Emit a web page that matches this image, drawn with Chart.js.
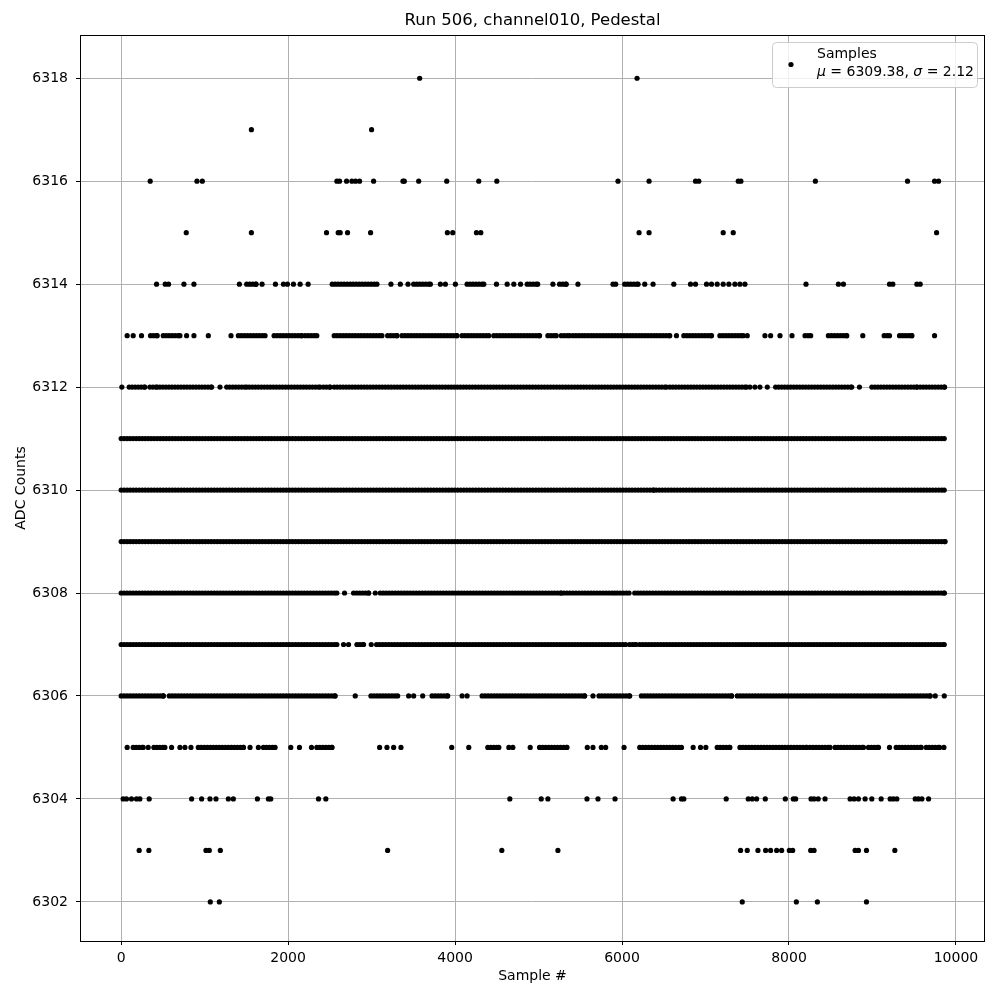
<!DOCTYPE html>
<html lang="en">
<head>
<meta charset="UTF-8">
<title>Run 506, channel010, Pedestal</title>
<script src="https://cdn.jsdelivr.net/npm/chart.js"></script>
<style>
  html, body { margin: 0; padding: 0; background: #fff; }
  #wrap { width: 1000px; height: 1000px; }
</style>
</head>
<body>
<div id="wrap"><canvas id="pedChart" width="1000" height="1000"></canvas></div>
<script>
// sample numbers for each ADC level
// a plain number is one dot, [a, b] is a stretch where the dots run together
const adc6318 = [3576, 6180];
const adc6317 = [1560, 3000];
const adc6316 = [348, 908, 972, 2584, 2616, 2700, 2764, 2808, 2856, 3024, 3376, 3392, 3564, 3900, 4284, 4500,
                 5952, 6324, 6880, 6920, 7392, 7424, 8316, 9420, 9744, 9792];
const adc6315 = [780, 1560, 2460, 2600, 2624, 2712, 2988, 3908, 3972, 4256, 4308, 6204, 6324, 7212, 7332, 9768];
const adc6314 = [424, 528, 568, 752, 872, 1416, [1504, 1616], 1688, 1848, 1944, 1992, 2064, 2144, 2240,
                 [2528, 3064], 3232, 3344, 3436, [3504, 3704], 3824, 3884, 4004, [4144, 4344], 4496, 4624, 4704,
                 4784, [4864, 4990], 5172, [5252, 5332], 5472, 5892, 5924, [6032, 6192], 6272, 6372, 6620, 6820,
                 6880, 7012, 7072, 7140, 7212, 7280, 7352, 7412, 7472, 8204, 8592, 8652, 9204, 9244, 9532, 9572];
const adc6313 = [72, 144, 244, [352, 432], [504, 704], 784, 872, 1044, 1316, [1404, 1724], [1832, 2164],
                 [2204, 2344], [2552, 3124], [3192, 3304], [3364, 4024], [4084, 4404], [4464, 5012], [5112, 5212],
                 [5272, 5372], [5412, 6572], 6652, [6740, 7072], [7172, 7452], 7500, 7712, 7780, 7892, 8036,
                 [8192, 8260], [8472, 8692], 8884, [9140, 9204], [9324, 9472], 9744];
const adc6312 = [8, [96, 284], [344, 432], [464, 1084], 1184, [1264, 1504], [1536, 2384], [2424, 2504],
                 [2552, 6532], [6572, 7492], 7532, 7592, 7652, 7740, [7840, 8752], 8844, [8992, 9532], [9572, 9864]];
const adc6311 = [[0, 9860]];
const adc6310 = [[0, 6380], [6410, 9860]];
const adc6309 = [[0, 9870]];
const adc6308 = [[0, 2584], 2676, [2784, 2964], 3044, [3104, 5272], [5304, 5912], [5944, 6084], [6152, 9860]];
const adc6307 = [[0, 2584], 2664, 2724, [2824, 2904], 2996, [3060, 6044], [6092, 6164], [6212, 9860]];
const adc6306 = [[0, 504], [576, 2564], 2804, [2992, 3312], 3444, 3504, 3612, [3724, 3912], 4084, 4144,
                 [4324, 5552], 5652, [5724, 6092], [6232, 7312], [7380, 9692], 9752, 9860];
const adc6305 = [72, [144, 264], 324, [392, 524], 604, 704, 764, 836, [924, 1464], 1544, 1644, [1704, 1844],
                 2032, 2136, 2280, [2344, 2524], 3096, 3184, 3264, 3352, 3960, 4164, [4392, 4524], 4644, 4692,
                 4900, [5012, 5340], 5584, 5652, 5752, 5804, 6024, [6212, 6712], 6852, 6940, 7004, [7140, 7292],
                 [7412, 8212], [8252, 8492], [8552, 8892], [8952, 9072], 9204, [9284, 9584], [9644, 9804], 9856];
const adc6304 = [24, 64, 124, 184, 224, 336, 844, 964, 1064, 1136, 1284, 1344, 1632, 1764, 1792, 2364, 2452,
                 4656, 5032, 5112, 5580, 5712, 5916, 6612, 6712, 6740, 7248, 7512, 7560, 7612, 7716, 7956, 8052,
                 8080, 8264, 8300, 8350, 8432, 8732, 8780, 8832, 8912, 8992, 9104, 9212, 9250, 9292, 9512, 9550,
                 9592, 9672];
const adc6303 = [216, 332, 1016, 1056, 1188, 3192, 4560, 5232, 7420, 7500, 7628, 7720, 7780, 7852, 7912, 8004,
                 8044, 8260, 8300, 8792, 8832, 8928, 9268];
const adc6302 = [1068, 1176, 7440, 8088, 8340, 8928];

const adcLevels = [6302, 6303, 6304, 6305, 6306, 6307, 6308, 6309, 6310, 6311, 6312, 6313, 6314, 6315, 6316, 6317, 6318];
const levelSamples = [adc6302, adc6303, adc6304, adc6305, adc6306, adc6307, adc6308, adc6309, adc6310,
                      adc6311, adc6312, adc6313, adc6314, adc6315, adc6316, adc6317, adc6318];

const xTicks = [0, 2000, 4000, 6000, 8000, 10000];
const yTicks = [6302, 6304, 6306, 6308, 6310, 6312, 6314, 6316, 6318];
const legendLines = ['Samples', 'μ = 6309.38, σ = 2.12'];

const RUN_STEP = 36; // spacing of dots inside a solid stretch

const points = [];
levelSamples.forEach((list, i) => {
    list.forEach(s => {
        if (Array.isArray(s)) {
            for (let x = s[0]; x <= s[1]; x += RUN_STEP) points.push({ x: x, y: adcLevels[i] });
            points.push({ x: s[1], y: adcLevels[i] });
        } else {
            points.push({ x: s, y: adcLevels[i] });
        }
    });
});

const FONT = "'DejaVu Sans', sans-serif";

const extras = {
    id: 'extras',
    afterDraw(chart) {
        const { ctx, chartArea: a } = chart;
        ctx.save();
        // frame
        ctx.strokeStyle = '#000';
        ctx.lineWidth = 1;
        ctx.strokeRect(a.left + 0.5, a.top + 0.5, a.right - a.left - 1, a.bottom - a.top);

        // title
        ctx.fillStyle = '#000';
        ctx.font = '16.5px ' + FONT;
        ctx.textAlign = 'center';
        ctx.textBaseline = 'middle';
        ctx.fillText('Run 506, channel010, Pedestal', (a.left + a.right) / 2, 21);

        // legend
        const bx = 772, by = 42, bw = 205, bh = 45;
        ctx.beginPath();
        ctx.roundRect(bx + 0.5, by + 0.5, bw, bh, 4);
        ctx.fillStyle = 'rgba(255,255,255,0.8)';
        ctx.fill();
        ctx.strokeStyle = '#cccccc';
        ctx.stroke();

        ctx.fillStyle = '#000';
        ctx.beginPath();
        ctx.arc(791, 64.5, 2.6, 0, Math.PI * 2);
        ctx.fill();

        ctx.textAlign = 'left';
        ctx.font = '14px ' + FONT;
        ctx.fillText(legendLines[0], 817, 54);

        // second line: greek letters in italic, like mathtext
        const parts = [['μ', true], [' = 6309.38, ', false], ['σ', true], [' = 2.12', false]];
        let tx = 817;
        parts.forEach(([t, it]) => {
            ctx.font = (it ? 'italic ' : '') + '14px ' + FONT;
            ctx.fillText(t, tx, 72);
            tx += ctx.measureText(t).width;
        });
        ctx.restore();
    }
};

const ctx = document.getElementById('pedChart').getContext('2d');
new Chart(ctx, {
    type: 'scatter',
    data: {
        datasets: [{
            label: 'Samples',
            data: points,
            backgroundColor: '#000',
            borderWidth: 0,
            pointRadius: 2.6,
            pointHoverRadius: 2.6
        }]
    },
    options: {
        responsive: false,
        animation: false,
        events: [],
        layout: { padding: { top: 35, right: 15, left: 0, bottom: 0 } },
        plugins: {
            legend: { display: false },
            tooltip: { enabled: false }
        },
        scales: {
            x: {
                type: 'linear',
                min: -493,
                max: 10348,
                afterFit: s => { s.height = 59; },
                afterBuildTicks: s => { s.ticks = xTicks.map(v => ({ value: v })); },
                grid: { color: '#b0b0b0', lineWidth: 1, tickColor: '#000', tickLength: 4 },
                border: { display: false },
                ticks: {
                    color: '#000', padding: 5, maxRotation: 0,
                    font: { family: FONT, size: 14 },
                    callback: v => String(v)
                },
                title: {
                    display: true, text: 'Sample #', color: '#000',
                    font: { family: FONT, size: 14 },
                    padding: { top: 0, bottom: 15 }
                }
            },
            y: {
                type: 'linear',
                min: 6301.24,
                max: 6318.84,
                afterFit: s => { s.width = 80; },
                afterBuildTicks: s => { s.ticks = yTicks.map(v => ({ value: v })); },
                grid: { color: '#b0b0b0', lineWidth: 1, tickColor: '#000', tickLength: 4 },
                border: { display: false },
                ticks: {
                    color: '#000', padding: 8,
                    font: { family: FONT, size: 14 },
                    callback: v => String(v)
                },
                title: {
                    display: true, text: 'ADC Counts', color: '#000',
                    font: { family: FONT, size: 14 },
                    padding: { top: 13, bottom: 0 }
                }
            }
        }
    },
    plugins: [extras]
});
</script>
</body>
</html>
